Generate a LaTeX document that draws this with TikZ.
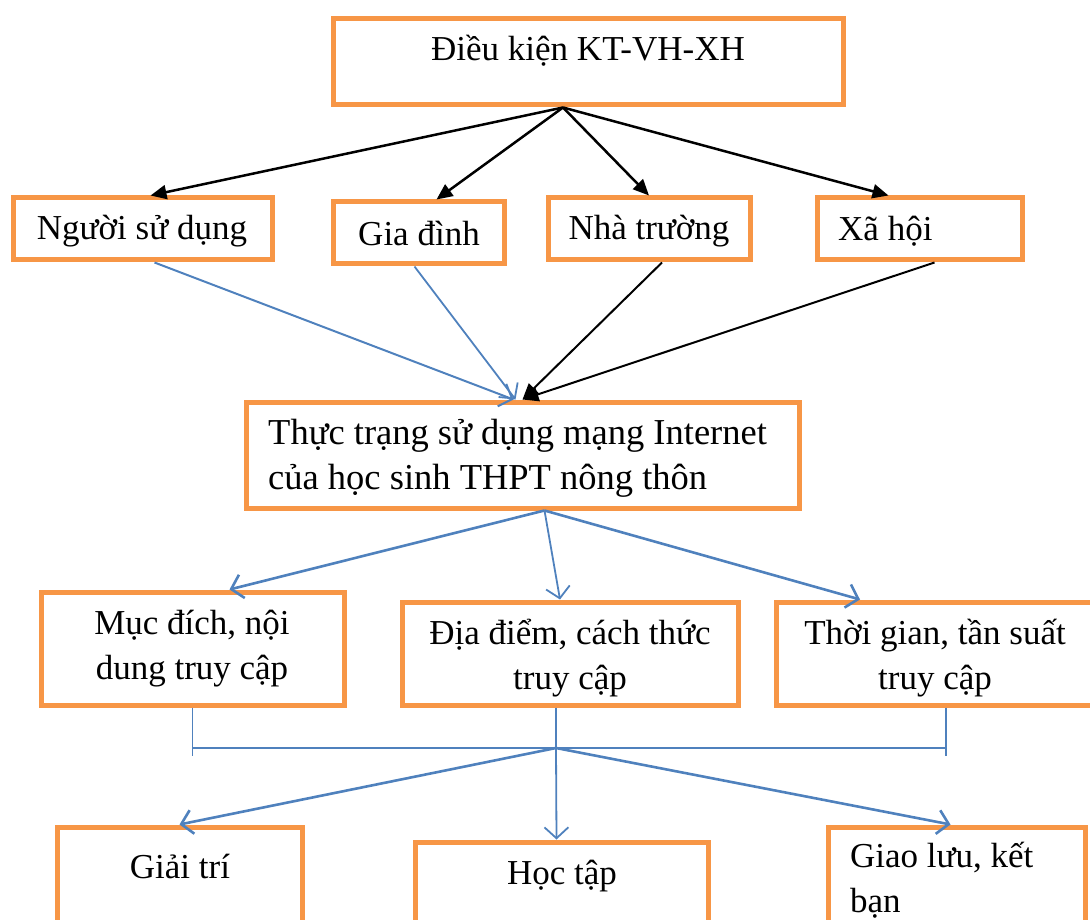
\documentclass[tikz,border=0pt]{standalone}
\usepackage{fontspec}
\setmainfont{Liberation Serif}
\usetikzlibrary{arrows.meta}
\definecolor{boxorange}{HTML}{F79646}
\definecolor{linkblue}{HTML}{4F81BD}
\tikzset{
  box/.style={draw=boxorange, line width=5pt, inner sep=0pt},
  txt/.style={inner sep=0pt, font=\fontsize{35}{45}\selectfont},
  blackarrow/.style={line width=2.5pt, -{Triangle[length=16pt,width=14pt]}},
  bluearrow/.style={draw=linkblue, line width=2.6pt, -{Straight Barb[length=11pt,width=24pt]}},
  blueline/.style={draw=linkblue, line width=1.6pt}
}
\begin{document}
\begin{tikzpicture}[x=1pt,y=-1pt]
        \useasboundingbox (0,0) rectangle (1090,920);
        \clip (0,0) rectangle (1090,920);

        \node[box, minimum width=510pt, minimum height=86pt] (cond) at (588,62) {};
        \node[txt] (condT) at (588,51) {Điều kiện KT-VH-XH};

        \node[box, minimum width=259pt, minimum height=62pt] (user) at (142.5,229) {};
        \node[txt] (userT) at (142,231) {Người sử dụng};
        \node[box, minimum width=171pt, minimum height=62pt] (family) at (418.5,233) {};
        \node[txt] (familyT) at (419,234) {Gia đình};
        \node[box, minimum width=202pt, minimum height=62pt] (school) at (649,229) {};
        \node[txt] (schoolT) at (649,231) {Nhà trường};
        \node[box, minimum width=205pt, minimum height=62pt] (society) at (919.5,229) {};
        \node[txt, anchor=west] (societyT) at (838,231) {Xã hội};

        \node[box, minimum width=553pt, minimum height=106pt] (status) at (522.5,455) {};
        \node[txt, anchor=west, align=left, font=\fontsize{36.5}{45}\selectfont] (statusT) at (268,458) {Thực trạng sử dụng mạng Internet\\của học sinh THPT nông thôn};

        \node[box, minimum width=303pt, minimum height=113pt] (purpose) at (192.5,648.5) {};
        \node[txt, align=center] (purposeT) at (192,649) {Mục đích, nội\\dung truy cập};
        \node[box, minimum width=336pt, minimum height=103pt] (place) at (570,653.5) {};
        \node[txt, align=center] (placeT) at (570,658) {Địa điểm, cách thức\\truy cập};
        \node[box, minimum width=324pt, minimum height=103pt] (time) at (938,653.5) {};
        \node[txt, align=center] (timeT) at (935,658) {Thời gian, tần suất\\truy cập};

        \node[box, minimum width=245pt, minimum height=130pt] (fun) at (179.5,892) {};
        \node[txt] (funT) at (180,866) {Giải trí};
        \node[box, minimum width=293pt, minimum height=130pt] (study) at (561.5,907) {};
        \node[txt] (studyT) at (562,876) {Học tập};
        \node[box, minimum width=257pt, minimum height=130pt] (social) at (956.5,892) {};
        \node[txt, anchor=west, align=left] (socialT) at (850,880) {Giao lưu, kết\\bạn};

        \coordinate (condOut) at ([xshift=-25pt]cond.south);
        \draw[blackarrow] (condOut) -- ([xshift=8pt]user.north);
        \draw[blackarrow] (condOut) -- ([xshift=18pt]family.north);
        \draw[blackarrow] (condOut) -- (school.north);
        \draw[blackarrow] (condOut) -- ([xshift=-31pt]society.north);

        \draw[bluearrow, line width=2pt] ([xshift=12pt]user.south) -- ([xshift=-9pt]status.north);
        \draw[bluearrow, line width=1.8pt] ([xshift=-4pt]family.south) -- ([xshift=-7pt]status.north);
        \draw[blackarrow, line width=2pt] ([xshift=13pt]school.south) -- (status.north);
        \draw[blackarrow, line width=2pt] ([xshift=15pt]society.south) -- (status.north);

        \coordinate (statusOut) at ([xshift=22pt]status.south);
        \draw[bluearrow] (statusOut) -- ([xshift=37pt]purpose.north);
        \draw[bluearrow, line width=1.8pt] (statusOut) -- ([xshift=-10pt]place.north);
        \draw[bluearrow] (statusOut) -- ([xshift=-78pt]time.north);

        \coordinate (hub) at (556,748);
        \coordinate (timeFoot) at ([xshift=8pt]time.south);
        \draw[blueline] (purpose.south) -- ++(0,48);
        \draw[blueline] (timeFoot) -- ++(0,48);
        \draw[blueline] (purpose.south |- hub) -- (timeFoot |- hub);
        \draw[blueline] (hub |- place.south) -- (hub);

        \draw[bluearrow] (hub) -- (fun.north);
        \draw[bluearrow, line width=1.8pt] (hub) -- ([xshift=-5pt]study.north);
        \draw[bluearrow] (hub) -- ([xshift=-6pt]social.north);
\end{tikzpicture}
\end{document}
